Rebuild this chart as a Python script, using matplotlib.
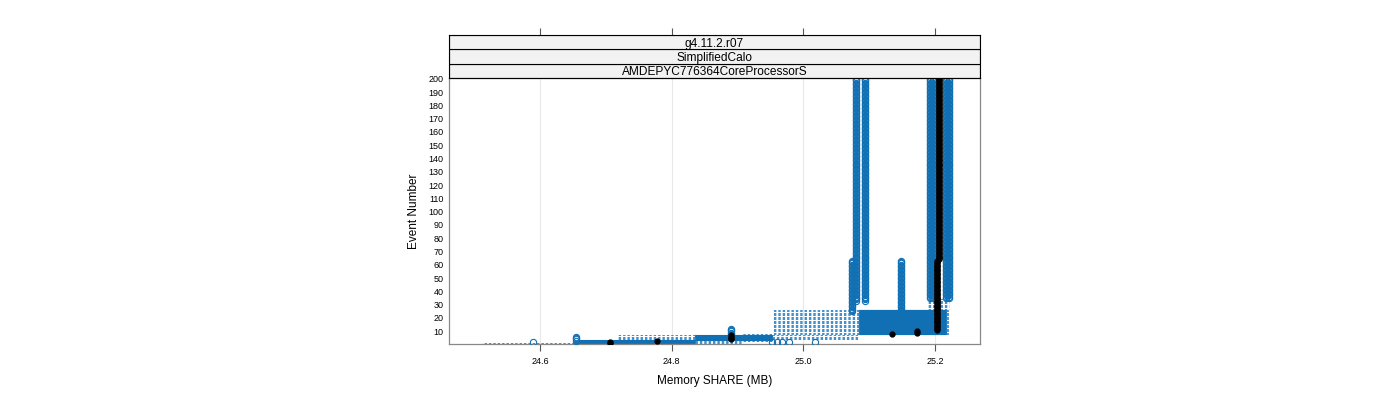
import matplotlib
matplotlib.use("Agg")
import matplotlib.pyplot as plt

plt.rcParams['font.family'] = ['Liberation Sans', 'DejaVu Sans']

# box statistics, one entry per run of event numbers sharing the same stats
seg_first = [1, 2, 3, 4, 7, 8, 9, 11, 13, 25, 27, 33, 35, 64]
seg_last = [1, 2, 3, 6, 7, 8, 10, 12, 24, 26, 32, 34, 63, 200]
whislo = [24.512, 24.652, 24.660, 24.719, 24.719, 24.905, 24.953, 24.953, 24.953, 24.953, 25.190, 25.190, 25.201, 25.203]
q1 = [24.652, 24.652, 24.660, 24.836, 24.836, 25.085, 25.085, 25.085, 25.085, 25.085, 25.200, 25.200, 25.202, 25.205]
med = [24.706, 24.706, 24.777, 24.890, 24.890, 25.135, 25.173, 25.203, 25.203, 25.203, 25.203, 25.203, 25.203, 25.206]
q3 = [24.836, 24.836, 24.836, 24.953, 24.953, 25.216, 25.216, 25.216, 25.216, 25.216, 25.207, 25.207, 25.205, 25.208]
whishi = [24.905, 24.905, 24.953, 25.085, 25.085, 25.222, 25.222, 25.222, 25.222, 25.222, 25.222, 25.222, 25.207, 25.210]
fliers = [[], [24.589, 24.953, 24.960, 24.968, 24.978, 25.018], [24.655], [24.655], [],
          [24.890], [24.890], [24.890], [], [25.074, 25.148], [25.074, 25.148],
          [25.074, 25.080, 25.094, 25.148],
          [25.074, 25.080, 25.094, 25.148, 25.193, 25.197, 25.216, 25.221],
          [25.080, 25.094, 25.193, 25.197, 25.216, 25.221]]

strips = ["g4.11.2.r07", "SimplifiedCalo", "AMDEPYC776364CoreProcessorS"]
xticks = [24.6, 24.8, 25.0, 25.2]
yticks = list(range(10, 201, 10))

blue = '#1170b4'

# expand segments into per-event stats
stats = []
positions = []
for i in range(len(seg_first)):
    for ev in range(seg_first[i], seg_last[i] + 1):
        stats.append({'whislo': whislo[i], 'q1': q1[i], 'med': med[i], 'mean': med[i],
                      'q3': q3[i], 'whishi': whishi[i], 'fliers': fliers[i]})
        positions.append(ev)

fig = plt.figure(figsize=(14, 4), dpi=100)
ax = fig.add_axes([449/1400, 56/400, 531/1400, 266/400])

ax.bxp(stats, positions=positions, widths=0.5, orientation='horizontal',
       showcaps=False, showmeans=True, meanline=False, manage_ticks=False,
       boxprops=dict(color=blue, linewidth=0.8, zorder=2),
       whiskerprops=dict(color='#3f8fcc', linewidth=0.7, linestyle=(0, (2.5, 2)), zorder=2),
       medianprops=dict(linewidth=0),
       meanprops=dict(marker='o', markerfacecolor='black', markeredgecolor='black',
                      markersize=3.5, zorder=4),
       flierprops=dict(marker='o', markerfacecolor='none', markeredgecolor=blue,
                       markersize=4.5, markeredgewidth=0.8, zorder=3))

ax.set_xlim(24.4616, 25.2684)
ax.set_ylim(0.4, 200.6)
ax.set_xticks(xticks)
ax.set_xticklabels([f"{t:.1f}" for t in xticks], fontsize=6.5)
ax.set_yticks(yticks)
ax.set_yticklabels([str(t) for t in yticks], fontsize=6.5)
ax.tick_params(axis='y', length=0, pad=4)
ax.tick_params(axis='x', length=5, width=0.8, color='#555555', pad=4)
for t in xticks:
    ax.axvline(t, color='#e8e8e8', linewidth=0.8, zorder=0)
for s in ax.spines.values():
    s.set_color('#888888')
    s.set_linewidth(0.9)
ax.set_xlabel("Memory SHARE (MB)", fontsize=8.5, labelpad=7)
ax.set_ylabel("Event Number", fontsize=8.5, labelpad=6)

# strips
sax = fig.add_axes([449/1400, 322/400, 531/1400, 43/400])
sax.set_xlim(ax.get_xlim())
sax.set_ylim(0, 3)
for i, label in enumerate(reversed(strips)):
    sax.axhspan(i, i + 1, facecolor='#f2f2f2', edgecolor='black', linewidth=0.8)
    sax.text(sum(ax.get_xlim()) / 2, i + 0.5, label, ha='center', va='center_baseline',
             fontsize=8.6)
sax.set_xticks(xticks)
sax.set_yticks([])
sax.tick_params(axis='x', top=True, bottom=False, labeltop=False, labelbottom=False,
                length=5, width=0.8, color='#555555')
for s in sax.spines.values():
    s.set_color('black')
    s.set_linewidth(0.8)

fig.savefig("out.png", dpi=100)
